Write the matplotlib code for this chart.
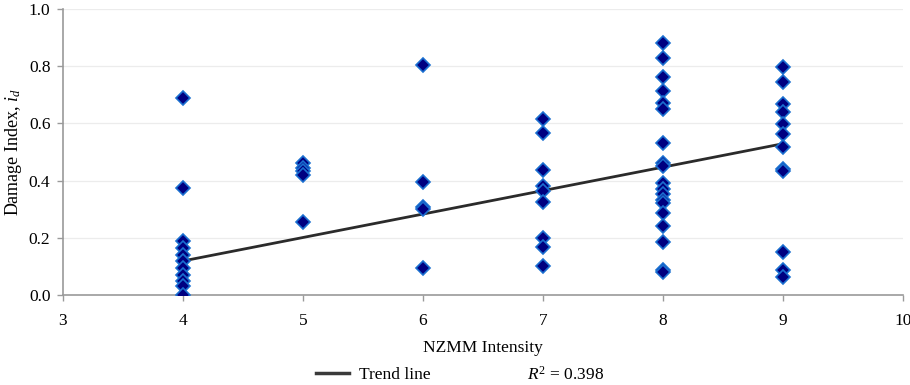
import numpy as np
import matplotlib
matplotlib.use("Agg")
from matplotlib import pyplot as plt
from matplotlib.lines import Line2D

plt.rcParams['font.family'] = ['Liberation Serif', 'DejaVu Serif']
plt.rcParams['mathtext.fontset'] = 'custom'
plt.rcParams['mathtext.rm'] = 'Liberation Serif'
plt.rcParams['mathtext.it'] = 'Liberation Serif:italic'

# damage index observations per NZMM intensity
int4 = [0.689, 0.375, 0.19, 0.165, 0.14, 0.12, 0.095, 0.07, 0.05, 0.03, 0.0]
int5 = [0.46, 0.445, 0.432, 0.42, 0.254]
int6 = [0.805, 0.396, 0.309, 0.30, 0.095]
int7 = [0.614, 0.568, 0.437, 0.381, 0.365, 0.326, 0.198, 0.169, 0.101]
int8 = [0.882, 0.827, 0.763, 0.714, 0.670, 0.650, 0.533, 0.463, 0.451,
        0.390, 0.370, 0.352, 0.332, 0.321, 0.286, 0.241, 0.186, 0.087, 0.080]
int9 = [0.798, 0.744, 0.667, 0.641, 0.598, 0.563, 0.519, 0.441, 0.435,
        0.151, 0.087, 0.064]
groups = {4: int4, 5: int5, 6: int6, 7: int7, 8: int8, 9: int9}

# trend line (from the full regression) and its R^2
trend_slope = 0.082
trend_icpt = -0.209
r2_text = "0.398"

xs = np.concatenate([[k] * len(v) for k, v in groups.items()]).astype(float)
ys = np.concatenate([v for v in groups.values()])

fig = plt.figure(figsize=(9.1, 3.85), dpi=100)
ax = fig.add_axes([0.0692, 0.2338, 0.9231, 0.7428])

tx = np.array([xs.min(), xs.max()])
ax.plot(tx, trend_slope * tx + trend_icpt, color='#2b2b2b', lw=2, zorder=2)

ax.plot(xs, ys, linestyle='none', marker='D', ms=7, mfc='#000080',
        mec='#1a6fd0', mew=1.2, zorder=3)

ax.set_xlim(3, 10)
ax.set_ylim(0, 1.0)
ax.set_xticks(range(3, 11))
ax.set_yticks(np.arange(0, 1.01, 0.2))
ax.set_yticklabels(['%.1f' % v for v in np.arange(0, 1.01, 0.2)])
ax.yaxis.grid(True, color='#ececec', lw=0.9)
ax.set_axisbelow(True)
for s in ['top', 'right']:
    ax.spines[s].set_visible(False)
for s in ['left', 'bottom']:
    ax.spines[s].set_color('#9a9a9a')
    ax.spines[s].set_linewidth(1.2)
ax.tick_params(axis='both', colors='#9a9a9a', labelcolor='black',
               labelsize=12.5, length=4, width=1)
ax.tick_params(axis='x', pad=9)
ax.tick_params(axis='y', pad=5)

ax.set_xlabel('NZMM Intensity', fontsize=12.5, labelpad=8)
ax.set_ylabel('Damage Index, $i_d$', fontsize=13)
ax.yaxis.set_label_coords(-0.046, 0.5)

handle = Line2D([], [], color='#3a3a3a', lw=2.5)
fig.legend([handle], ['Trend line'], loc='center left',
           bbox_to_anchor=(0.33, 0.026), frameon=False, fontsize=12.5,
           handlelength=1.9, handletextpad=0.6)
fig.text(0.579, 0.026, '$R^2$ = ' + r2_text, fontsize=12.5, va='center')

fig.savefig('out.png', dpi=100)
